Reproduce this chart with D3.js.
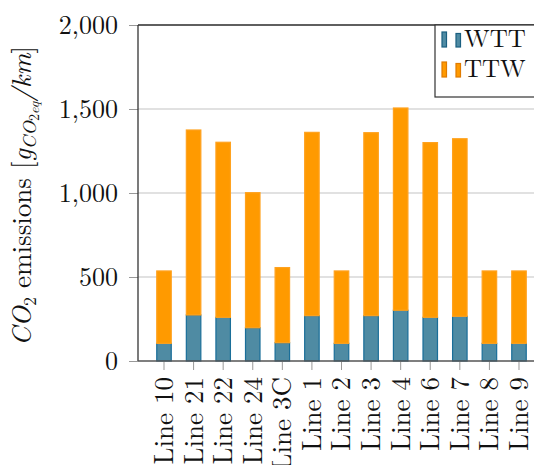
<!DOCTYPE html>
<html><head><meta charset="utf-8">
<script src="https://cdn.jsdelivr.net/npm/d3@7"></script>
<style>
body{margin:0;background:#fff;}
</style></head>
<body>
<svg id="c" width="534" height="465"></svg>
<script>
const categories = ["Line 10","Line 21","Line 22","Line 24","Line 3C","Line 1","Line 2","Line 3","Line 4","Line 6","Line 7","Line 8","Line 9"];
const wtt = [105,274,260,198,109,270,105,270,302,260,266,105,105];
const ttw = [431,1101,1042,804,447,1091,431,1089,1204,1040,1057,431,431];
const yTicks = [0,500,1000,1500,2000];
const seriesNames = ["WTT","TTW"];

const FONT = '"Latin Modern Roman","Liberation Serif",serif';
const colors = {WTT:{fill:"#4f8ba3",stroke:"#1a6e99"}, TTW:{fill:"#ff9a00",stroke:"#ffa21f"}};
const svg = d3.select("#c");
const pLeft = 138, pTop = 25, pBottom = 361, pRight = 545;

const x = d3.scaleBand().domain(categories).range([pLeft, pRight]).paddingInner(0.51).paddingOuter(0.634);
const y = d3.scaleLinear().domain([0,2000]).range([pBottom, pTop]);
const fmt = d3.format(",");

// gridlines
svg.append("g").selectAll("line").data(yTicks.filter(d=>d>0)).join("line")
  .attr("x1", pLeft).attr("x2", 534).attr("y1", d=>y(d)).attr("y2", d=>y(d))
  .attr("stroke", "#c4c4c4").attr("stroke-width", 1.2);

// stacked bars
const rows = categories.map((c,i)=>({cat:c, WTT:wtt[i], TTW:ttw[i]}));
const stack = d3.stack().keys(seriesNames)(rows);
stack.forEach(s=>{
  svg.append("g").selectAll("rect").data(s).join("rect")
    .attr("x", d=>x(d.data.cat)).attr("width", x.bandwidth())
    .attr("y", d=>y(d[1])).attr("height", d=>y(d[0])-y(d[1]))
    .attr("fill", colors[s.key].fill).attr("stroke", colors[s.key].stroke).attr("stroke-width", 1.2);
});

// y axis
const yAxis = svg.append("g").attr("transform", `translate(${pLeft},0)`)
  .call(d3.axisLeft(y).tickValues(yTicks).tickFormat(fmt).tickSize(9).tickPadding(11));
yAxis.select(".domain").remove();
yAxis.selectAll(".tick line").attr("stroke", "#999");
yAxis.selectAll(".tick text").style("font-size", "26px").style("font-family",FONT).attr("fill","#111");

// x axis
const xAxis = svg.append("g").attr("transform", `translate(0,${pBottom})`)
  .call(d3.axisBottom(x).tickSize(9).tickPadding(0));
xAxis.select(".domain").remove();
xAxis.selectAll(".tick line").attr("stroke", "#999");
xAxis.selectAll(".tick text").style("font-size", "27px").style("font-family",FONT).attr("fill","#111")
  .attr("text-anchor","end").attr("dy","0.33em")
  .attr("transform","translate(0,16) rotate(-90)").attr("x",0).attr("y",0);

// frame: left axis, bottom and top line
svg.append("line").attr("x1",pLeft).attr("x2",pLeft).attr("y1",pTop).attr("y2",pBottom).attr("stroke","#333").attr("stroke-width",1.3);
svg.append("line").attr("x1",pLeft).attr("x2",534).attr("y1",pBottom).attr("y2",pBottom).attr("stroke","#555").attr("stroke-width",1.3);
svg.append("line").attr("x1",pLeft).attr("x2",534).attr("y1",pTop).attr("y2",pTop).attr("stroke","#333").attr("stroke-width",1.3);

// y label
const yl = svg.append("text").attr("transform", `translate(31,${(pTop+pBottom)/2 + 3}) rotate(-90)`)
  .attr("text-anchor","middle").style("font-size","27px").style("font-family",FONT).attr("fill","#111");
yl.append("tspan").style("font-style","italic").text("CO");
yl.append("tspan").style("font-size","18px").attr("dy",5).text("2");
yl.append("tspan").attr("dy",-5).text(" emissions [");
yl.append("tspan").style("font-style","italic").text("g");
yl.append("tspan").style("font-style","italic").style("font-size","19px").attr("dy",5).text("CO");
yl.append("tspan").style("font-size","14px").attr("dy",3).text("2");
yl.append("tspan").style("font-style","italic").style("font-size","14px").text("eq");
yl.append("tspan").style("font-style","italic").attr("dy",-8).text("/km");
yl.append("tspan").text("]");

// legend
const lg = svg.append("g");
lg.append("rect").attr("x",435).attr("y",pTop).attr("width",110).attr("height",72)
  .attr("fill","#fff").attr("stroke","#333").attr("stroke-width",1.2);
seriesNames.forEach((k,i)=>{
  const yy = pTop + 7 + i*30;
  lg.append("rect").attr("x",442).attr("y",yy).attr("width",4.5).attr("height",15)
    .attr("fill",colors[k].fill).attr("stroke",k==="WTT"?"#1a5f80":"#e07b00").attr("stroke-width",1.2);
  lg.append("rect").attr("x",456).attr("y",yy+1.5).attr("width",4.5).attr("height",13.5)
    .attr("fill",colors[k].fill).attr("stroke",k==="WTT"?"#1a5f80":"#e07b00").attr("stroke-width",1.2);
  lg.append("text").attr("x",464).attr("y",yy+15).style("font-size","25px").style("font-family",FONT).attr("fill","#111").text(k);
});
</script>
</body></html>
